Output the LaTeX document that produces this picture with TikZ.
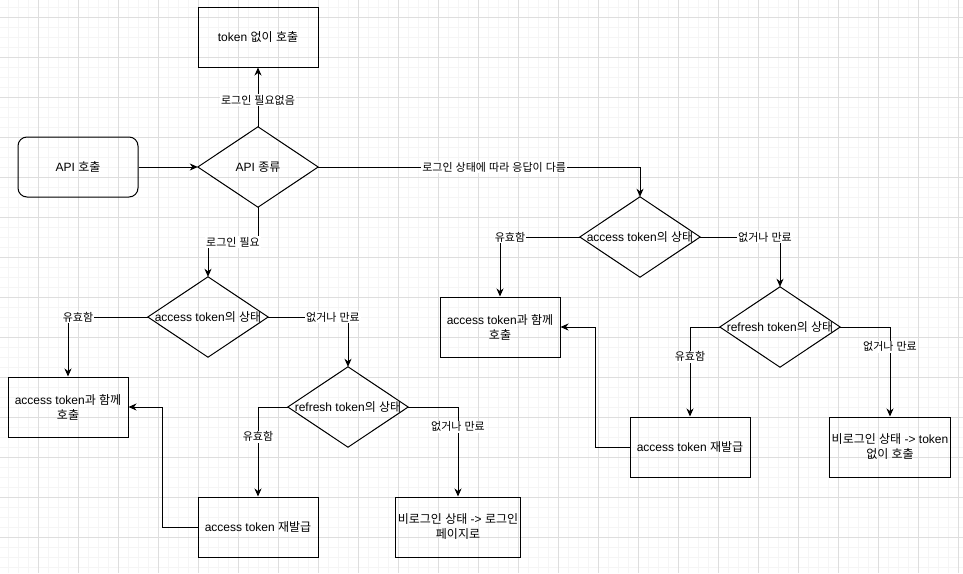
\documentclass[tikz,border=0pt]{standalone}
\usepackage{fontspec}
\setmainfont{Liberation Sans}
\newfontfamily\krfont{Noto Sans CJK KR}
\newXeTeXintercharclass\krclass
\count255="AC00
\loop\ifnum\count255<"D7A4 \XeTeXcharclass\count255=\krclass \advance\count255 by 1 \repeat
\XeTeXinterchartokenstate=1
\XeTeXinterchartoks 0 \krclass = {\krfont}
\XeTeXinterchartoks 4095 \krclass = {\krfont}
\XeTeXinterchartoks \krclass 0 = {\rmfamily}
\XeTeXinterchartoks \krclass 4095 = {\rmfamily}
\usetikzlibrary{arrows.meta}
\tikzset{
  box/.style={draw, line width=1pt, minimum width=120pt, minimum height=60pt, inner sep=2pt, align=center, font=\fontsize{12}{15}\selectfont},
  rbox/.style={box, rounded corners=9pt},
  dia/.style={minimum width=120pt, minimum height=80pt, inner sep=0pt, align=center, font=\fontsize{12}{15}\selectfont},
  lbl/.style={fill=white, inner sep=1pt, font=\fontsize{11}{13}\selectfont},
  conn/.style={line width=1pt, -{Stealth[length=8pt,width=7pt,inset=2.5pt]}},
  minorgrid/.style={line width=0.8pt, draw=black!4},
  majorgrid/.style={line width=0.8pt, draw=black!13},
}
\newcommand{\drawdia}[1]{\draw[line width=1pt] (#1.north) -- (#1.east) -- (#1.south) -- (#1.west) -- cycle;}
\begin{document}
\begin{tikzpicture}[x=1pt, y=-1pt]
\useasboundingbox (0,0) rectangle (963,573);
\fill[white] (0,0) rectangle (963,573);
% grid
\foreach \gx in {8,18,...,958} \draw[minorgrid] (\gx,0) -- (\gx,573);
\foreach \gy in {7,17,...,567} \draw[minorgrid] (0,\gy) -- (963,\gy);
\foreach \gx in {38,78,...,958} \draw[majorgrid] (\gx,0) -- (\gx,573);
\foreach \gy in {17,57,...,567} \draw[majorgrid] (0,\gy) -- (963,\gy);

% nodes
\node[box] (tok0) at (258,37) {token 없이 호출};
\node[rbox] (api) at (78,167) {API 호출};
\node[dia] (d1) at (258,167) {API 종류};
\node[dia] (d2) at (640,237) {access token의 상태};
\node[box] (ra) at (500,327) {access token과 함께\\호출};
\node[dia] (d3) at (780,327) {refresh token의 상태};
\node[box] (rr) at (690,447) {access token 재발급};
\node[box] (rn) at (890,447) {비로그인 상태 -> token\\없이 호출};
\node[dia] (d4) at (208,317) {access token의 상태};
\node[box] (la) at (68,407) {access token과 함께\\호출};
\node[dia] (d5) at (348,407) {refresh token의 상태};
\node[box] (lr) at (258,527) {access token 재발급};
\node[box] (ln) at (458,527) {비로그인 상태 -> 로그인\\페이지로};

\drawdia{d1}
\drawdia{d2}
\drawdia{d3}
\drawdia{d4}
\drawdia{d5}

% connectors
\draw[conn] (api.east) -- (d1.west);
\draw[conn] (d1.north) -- node[lbl, pos=0.45] {로그인 필요없음} (tok0.south);
\draw[conn] (d1.east) -- node[lbl, pos=0.547] {로그인 상태에 따라 응답이 다름} (d1.east -| d2.north) -- (d2.north);
\draw[conn] (d1.south) -- ++(0,35) -- node[lbl] {로그인 필요} ++(-50,0) -- (d4.north);
\draw[conn] (d2.west) -| node[lbl, pos=0.5, xshift=10pt] {유효함} (ra.north);
\draw[conn] (d2.east) -| node[lbl, pos=0.5, xshift=-15pt] {없거나 만료} (d3.north);
\draw[conn] (d3.west) -- (d3.west -| rr.north) -- node[lbl, pos=0.333] {유효함} (rr.north);
\draw[conn] (d3.east) -- (d3.east -| rn.north) -- node[lbl, pos=0.22] {없거나 만료} (rn.north);
\draw[conn] (rr.west) -- ++(-34,0) |- (ra.east);
\draw[conn] (d4.west) -| node[lbl, pos=0.5, xshift=10pt] {유효함} (la.north);
\draw[conn] (d4.east) -| node[lbl, pos=0.5, xshift=-15pt] {없거나 만료} (d5.north);
\draw[conn] (d5.west) -- (d5.west -| lr.north) -- node[lbl, pos=0.333] {유효함} (lr.north);
\draw[conn] (d5.east) -- (d5.east -| ln.north) -- node[lbl, pos=0.22] {없거나 만료} (ln.north);
\draw[conn] (lr.west) -- ++(-35,0) |- (la.east);
\end{tikzpicture}
\end{document}
